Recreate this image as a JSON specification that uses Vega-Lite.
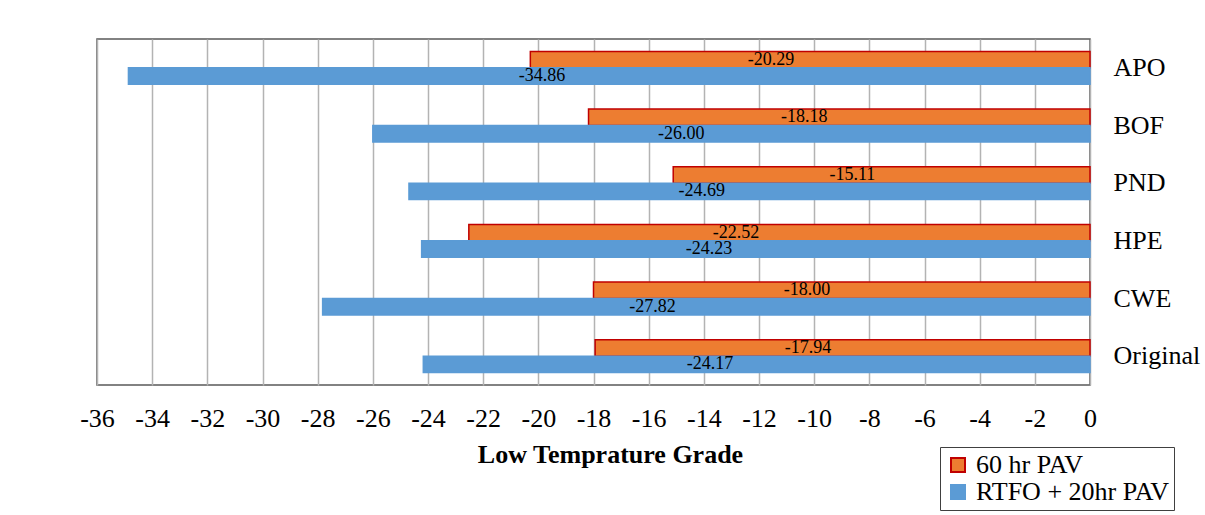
{
  "$schema": "https://vega.github.io/schema/vega-lite/v6.json",
  "width": 993,
  "height": 346,
  "autosize": "none",
  "padding": {"left": 97, "top": 39, "right": 115, "bottom": 130},
  "background": "white",
  "config": {
    "font": "Liberation Serif",
    "view": {"stroke": "#595959", "strokeWidth": 1.5},
    "axis": {"labelFont": "Liberation Serif", "titleFont": "Liberation Serif", "labelColor": "black", "titleColor": "black"},
    "legend": {"labelFont": "Liberation Serif", "labelColor": "black"}
  },
  "data": {
    "values": [
      {"category": "APO", "series": "60 hr PAV", "value": -20.29},
      {"category": "APO", "series": "RTFO + 20hr PAV", "value": -34.86},
      {"category": "BOF", "series": "60 hr PAV", "value": -18.18},
      {"category": "BOF", "series": "RTFO + 20hr PAV", "value": -26.00},
      {"category": "PND", "series": "60 hr PAV", "value": -15.11},
      {"category": "PND", "series": "RTFO + 20hr PAV", "value": -24.69},
      {"category": "HPE", "series": "60 hr PAV", "value": -22.52},
      {"category": "HPE", "series": "RTFO + 20hr PAV", "value": -24.23},
      {"category": "CWE", "series": "60 hr PAV", "value": -18.00},
      {"category": "CWE", "series": "RTFO + 20hr PAV", "value": -27.82},
      {"category": "Original", "series": "60 hr PAV", "value": -17.94},
      {"category": "Original", "series": "RTFO + 20hr PAV", "value": -24.17}
    ]
  },
  "encoding": {
    "y": {
      "field": "category",
      "type": "nominal",
      "sort": ["APO", "BOF", "PND", "HPE", "CWE", "Original"],
      "scale": {"paddingInner": 0.43, "paddingOuter": 0.215},
      "axis": {
        "orient": "right",
        "title": null,
        "ticks": false,
        "domain": false,
        "grid": false,
        "labelFontSize": 26,
        "labelAlign": "left",
        "labelPadding": 23
      }
    },
    "yOffset": {
      "field": "series",
      "type": "nominal",
      "sort": ["60 hr PAV", "RTFO + 20hr PAV"],
      "scale": {"paddingInner": 0, "paddingOuter": 0}
    }
  },
  "layer": [
    {
      "mark": {"type": "bar", "strokeWidth": 1.5},
      "encoding": {
        "x": {
          "field": "value",
          "type": "quantitative",
          "scale": {"domain": [-36, 0], "nice": false},
          "axis": {
            "title": "Low Temprature Grade",
            "titleFontSize": 26,
            "titleFontWeight": "bold",
            "titlePadding": 10,
            "titleX": 513,
            "titleAlign": "center",
            "values": [-36, -34, -32, -30, -28, -26, -24, -22, -20, -18, -16, -14, -12, -10, -8, -6, -4, -2, 0],
            "labelExpr": "replace(datum.label, '\u2212', '-')",
            "labelFontSize": 26,
            "labelPadding": 20,
            "ticks": false,
            "domain": false,
            "grid": true,
            "gridColor": "#b3b3b3",
            "gridWidth": 1.5,
            "gridOpacity": 1,
            "labelFlush": false
          }
        },
        "color": {
          "field": "series",
          "type": "nominal",
          "sort": ["60 hr PAV", "RTFO + 20hr PAV"],
          "scale": {"range": ["#ED7D31", "#5B9BD5"]},
          "legend": {
            "title": null,
            "orient": "none",
            "legendX": 843,
            "legendY": 408,
            "labelFontSize": 26,
            "labelLimit": 400,
            "symbolType": "square",
            "symbolSize": 196,
            "symbolStrokeWidth": 2,
            "symbolOpacity": 1,
            "labelOffset": 5,
            "rowPadding": 1,
            "padding": 5,
            "strokeColor": "#404040",
            "fillColor": "white",
            "encode": {
              "symbols": {
                "update": {
                  "stroke": {"signal": "datum.value === '60 hr PAV' ? '#C00000' : '#5B9BD5'"},
                  "strokeWidth": {"value": 2}
                }
              }
            }
          }
        },
        "stroke": {
          "field": "series",
          "type": "nominal",
          "sort": ["60 hr PAV", "RTFO + 20hr PAV"],
          "scale": {"range": ["#C00000", "#5B9BD5"]},
          "legend": null
        }
      }
    },
    {
      "transform": [
        {"calculate": "datum.value * 0.57", "as": "labelPos"},
        {"calculate": "replace(format(datum.value, '.2f'), '\u2212', '-')", "as": "labelText"}
      ],
      "mark": {"type": "text", "fontSize": 18, "font": "Liberation Serif", "color": "black", "baseline": "middle", "align": "center"},
      "encoding": {
        "x": {"field": "labelPos", "type": "quantitative"},
        "text": {"field": "labelText", "type": "nominal"}
      }
    }
  ]
}
